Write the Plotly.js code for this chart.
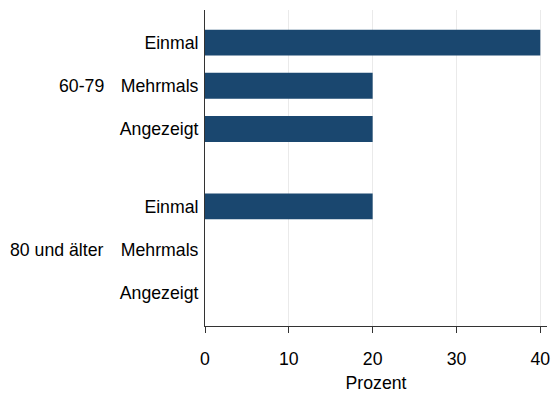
<!DOCTYPE html>
<html>
<head>
<meta charset="utf-8">
<script src="https://cdn.plot.ly/plotly-3.0.1.min.js"></script>
<style>html,body{margin:0;padding:0;background:#fff}#chart{width:554px;height:396px}</style>
</head>
<body>
<div id="chart"></div>
<script>
const groups = ["60-79", "80 und älter"];
const items = ["Einmal", "Mehrmals", "Angezeigt"];
const values = [
  [40, 20, 20],
  [20, 0, 0]
];
const xTicks = [0, 10, 20, 30, 40];
const xTitle = "Prozent";

const groupGap = 0.79;
const ys = [], xs = [], tickvals = [], ticktext = [], groupMid = [];
groups.forEach((g, gi) => {
  const base = gi * (items.length + groupGap);
  items.forEach((it, ii) => {
    ys.push(base + ii);
    xs.push(values[gi][ii]);
    tickvals.push(base + ii);
    ticktext.push(it);
  });
  groupMid.push(base + (items.length - 1) / 2);
});

const font = {family: "Liberation Sans, Arial, sans-serif", size: 17.7, color: "#000"};

const data = [{
  type: "bar",
  orientation: "h",
  x: xs,
  y: ys,
  width: 0.6,
  marker: {color: "#1a476f", line: {width: 0}},
  hoverinfo: "x+y"
}];

const layout = {
  width: 554, height: 396,
  margin: {l: 205, r: 7, t: 10, b: 70},
  paper_bgcolor: "#fff", plot_bgcolor: "#fff",
  font: font,
  showlegend: false,
  xaxis: {
    range: [0, 40.8],
    tickvals: xTicks,
    ticktext: xTicks.map(String),
    showgrid: true, gridcolor: "#eaeaea", gridwidth: 1,
    zeroline: false,
    showline: true, linecolor: "#333", linewidth: 1,
    ticks: "outside", ticklen: 6, tickcolor: "#333",
    ticklabelstandoff: 11,
    tickfont: font,
    title: {text: xTitle, font: font, standoff: 8}
  },
  yaxis: {
    range: [ys[ys.length - 1] + 0.77, -0.755],
    tickvals: tickvals,
    ticktext: ticktext,
    showgrid: false, zeroline: false,
    showline: true, linecolor: "#333", linewidth: 1,
    ticks: "", 
    ticklabelstandoff: 2,
    tickfont: font
  },
  annotations: groups.map((g, gi) => ({
    text: g, xref: "paper", yref: "y",
    x: -0.29, y: groupMid[gi],
    xanchor: "right", yanchor: "middle",
    showarrow: false, font: font
  }))
};

Plotly.newPlot("chart", data, layout, {displayModeBar: false, staticPlot: true});
</script>
</body>
</html>
